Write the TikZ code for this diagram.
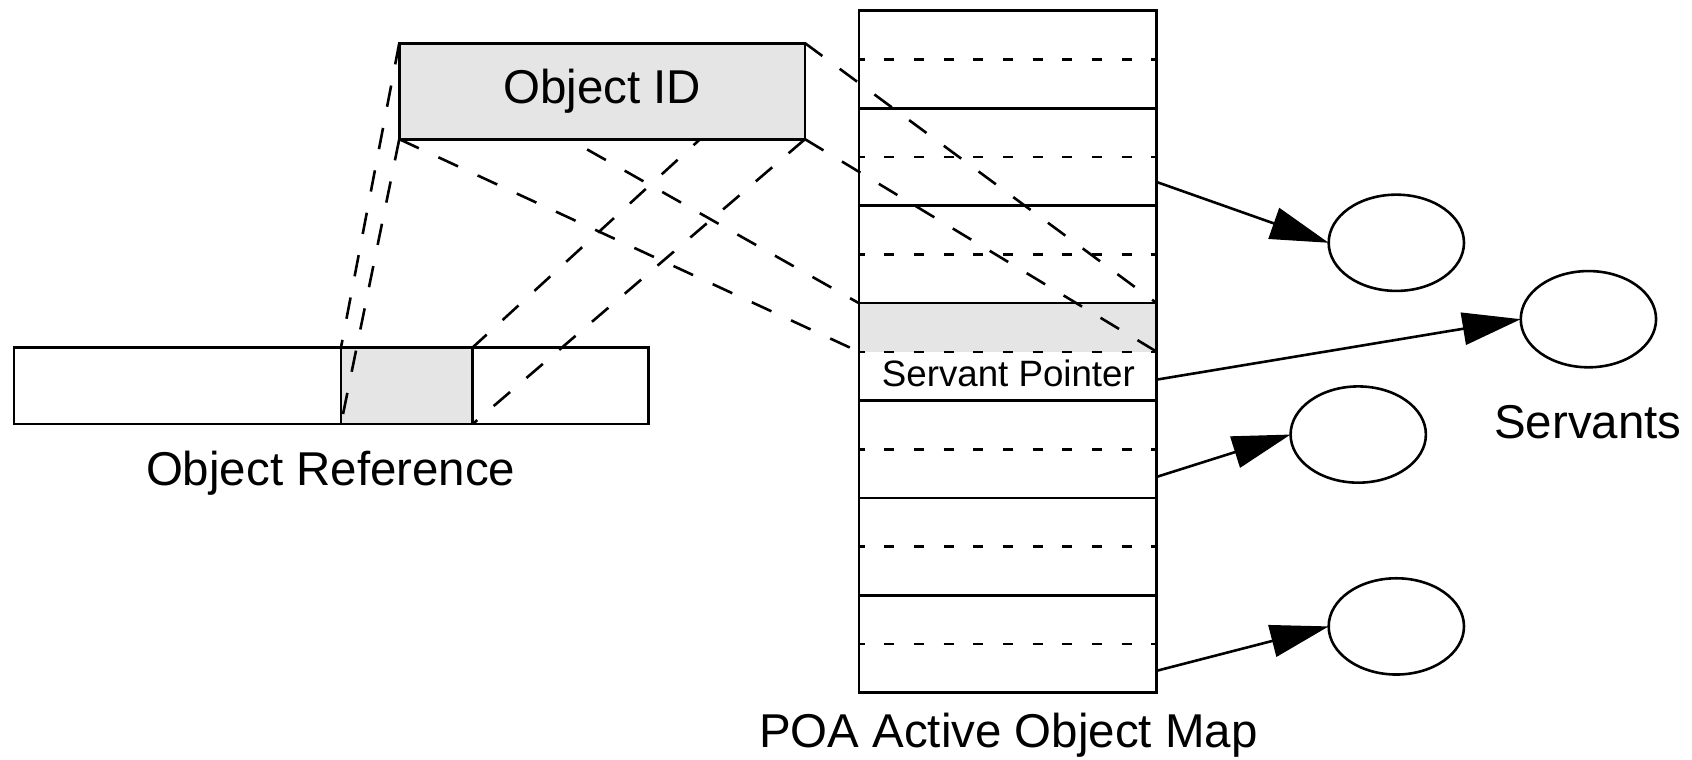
\documentclass[tikz,border=0pt]{standalone}
\usepackage{fontspec}
\setmainfont{Liberation Sans}
\usetikzlibrary{shapes.geometric, arrows.meta}
\definecolor{boxgray}{gray}{0.9}
\pgfdeclarelayer{fills}
\pgfdeclarelayer{lines}
\pgfsetlayers{fills,lines,main}
\begin{document}
\begin{tikzpicture}[x=0.5pt, y=-0.5pt, line width=1.3pt,
  box/.style={draw, line width=1.3pt, inner sep=0pt, outer sep=0pt},
  proj/.style={line width=1.2pt, dash pattern=on 10pt off 10pt},
  midline/.style={line width=1.2pt, dash pattern=on 4.65pt off 9.1pt, dash phase=2pt},
  serv/.style={draw, line width=1.2pt, ellipse, minimum width=62.7pt, minimum height=44.6pt, inner sep=0pt, outer sep=0pt},
  big/.style={font=\fontsize{22}{26}\selectfont, inner sep=0pt},
  small/.style={font=\fontsize{17}{20}\selectfont, inner sep=0pt},
  arr/.style={line width=1.2pt, -{Triangle[length=27pt,width=15pt]}}]
\useasboundingbox (0,0) rectangle (1568,704);

% Object ID box (on top of the projection lines)
\node[box, fill=boxgray, big, minimum width=188pt, minimum height=44.5pt, anchor=north west] (oid) at (370,40) {Object ID};

% Object reference bar
\node[box, minimum width=294pt, minimum height=35.5pt, anchor=north west] (ref) at (13,322) {};
\node[box, minimum width=61pt, minimum height=35.5pt, anchor=north west] (refid) at (316,322) {};
\begin{pgfonlayer}{fills}
  \fill[boxgray] (refid.north west) rectangle (refid.south east);
\end{pgfonlayer}
\node[big, anchor=base] (reflabel) at (306.5,449.5) {Object Reference};

% Active object map
\node[box, minimum width=138pt, minimum height=316pt, anchor=north west] (map) at (796,10) {};
\node[inner sep=0pt, outer sep=0pt, minimum width=138pt, minimum height=22.5pt, anchor=north west] (mapid) at (796,281) {};
\begin{pgfonlayer}{fills}
  \fill[boxgray] (mapid.north west) rectangle (mapid.south east);
\end{pgfonlayer}
\foreach \k in {1,...,6} {
  \draw[line width=1.3pt] (796,{10+90.29*\k}) -- (1072,{10+90.29*\k});
}
\foreach \k in {1,...,7} {
  \draw[midline] (796,{10+90.29*\k-45.14}) -- (1072,{10+90.29*\k-45.14});
}
\node[small, anchor=base] (sp) at (934.5,358.6) {Servant Pointer};
\node[big, anchor=base] (maplabel) at (934.5,693) {POA Active Object Map};

% projection lines
\begin{pgfonlayer}{lines}
  \draw[proj] (oid.north west) -- (refid.north west);
  \draw[proj] (oid.south west) -- (refid.south west);
  \draw[proj] (oid.north east) -- (refid.north east);
  \draw[proj] (oid.south east) -- (refid.south east);
  \draw[proj] (oid.north west) -- (mapid.north west);
  \draw[proj] (oid.south west) -- (mapid.south west);
  \draw[proj] (oid.north east) -- (mapid.north east);
  \draw[proj] (oid.south east) -- (mapid.south east);
\end{pgfonlayer}

% servants
\node[serv] (e1) at (1294,225) {};
\node[serv] (e2) at (1472,295.8) {};
\node[serv] (e3) at (1258.7,402.7) {};
\node[serv] (e4) at (1294,580.5) {};
\node[big, anchor=base] (servlabel) at (1471.5,406.5) {Servants};

\coordinate (a1) at (1072,168.7);
\coordinate (a2) at (1072,351.8);
\coordinate (a3) at (1072,441.9);
\coordinate (a4) at (1072,621.6);
\draw[arr] (a1) -- (e1.west);
\draw[arr] (a2) -- (e2.west);
\draw[arr] (a3) -- (e3.west);
\draw[arr] (a4) -- (e4.west);
\end{tikzpicture}
\end{document}
